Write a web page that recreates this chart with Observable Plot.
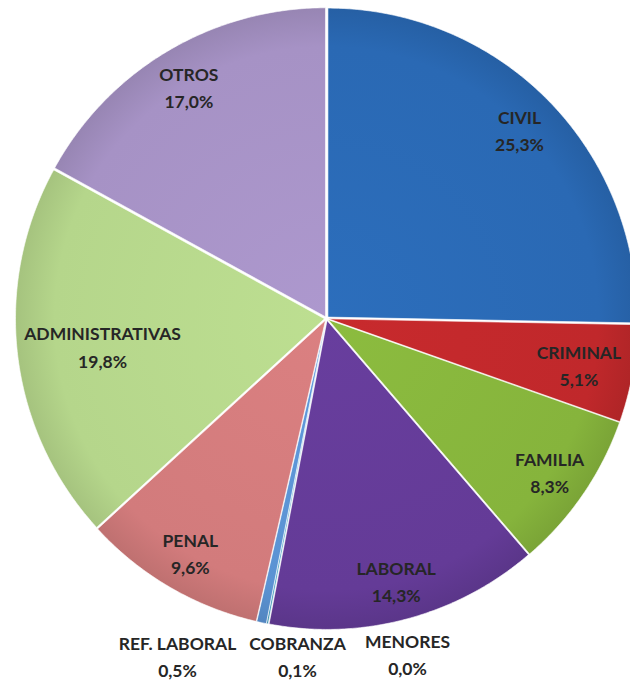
<!DOCTYPE html>
<html>
<head>
<meta charset="utf-8">
<script src="https://cdn.jsdelivr.net/npm/d3@7"></script>
<script src="https://cdn.jsdelivr.net/npm/@observablehq/plot@0.6"></script>
<style>
  html, body { margin: 0; padding: 0; background: #ffffff; }
  #chart { width: 630px; height: 682px; }
</style>
</head>
<body>
<div id="chart"></div>
<script>
// ---- data ----
const categories = ["CIVIL", "CRIMINAL", "FAMILIA", "LABORAL", "MENORES", "COBRANZA", "REF. LABORAL", "PENAL", "ADMINISTRATIVAS", "OTROS"];
const shares = [25.3, 5.1, 8.3, 14.3, 0.0, 0.1, 0.5, 9.6, 19.8, 17.0];
const colors = ["#2a69b4", "#c0282b", "#86b43c", "#643b97", "#7f7f7f", "#4aa3c4", "#5b93d3", "#d27b7c", "#b5d68b", "#a692c5"];

// ---- layout ----
const W = 630, H = 682;
const cx = 326, cy = 318, R = 309;
const explode = 2;
const fmt = v => d3.format(".1f")(v).replace(".", ",") + "%";

const rows = categories.map((name, i) => ({name, share: shares[i], color: colors[i], idx: i}));
const arcs = d3.pie().sort(null).value(d => d.share).startAngle(0).endAngle(2 * Math.PI)(rows);

const sliceMarks = [];
arcs.forEach(a => {
  if (a.endAngle - a.startAngle <= 0) return;
  const mid = (a.startAngle + a.endAngle) / 2;
  const ox = cx + explode * Math.sin(mid), oy = cy - explode * Math.cos(mid);
  const pts = [{x: ox, y: oy}];
  const n = Math.max(2, Math.ceil((a.endAngle - a.startAngle) / (Math.PI / 360)));
  for (let k = 0; k <= n; k++) {
    const t = a.startAngle + (a.endAngle - a.startAngle) * k / n;
    pts.push({x: ox + R * Math.sin(t), y: oy - R * Math.cos(t)});
  }
  pts.push({x: ox, y: oy});
  sliceMarks.push(Plot.line(pts, {x: "x", y: "y", fill: `url(#grad-${a.data.idx})`, stroke: "#ffffff", strokeWidth: 1, strokeOpacity: 0.6, curve: "linear"}));
});

// labels
const innerR = {ADMINISTRATIVAS: 0.73, CRIMINAL: 0.83};
const outsideX = {"REF. LABORAL": -149, "COBRANZA": -29, "MENORES": 81};
const labels = arcs.map(a => {
  const mid = (a.startAngle + a.endAngle) / 2;
  const name = a.data.name;
  if (name in outsideX) {
    return {x: cx + outsideX[name], y: cy + R + 27 - (name === "MENORES" ? 2 : 0), text: name + "\n" + fmt(a.data.share)};
  }
  const r = R * (innerR[name] ?? 0.875);
  return {x: cx + r * Math.sin(mid), y: cy - r * Math.cos(mid), text: name + "\n" + fmt(a.data.share)};
});

const chart = Plot.plot({
  width: W, height: H,
  margin: 0,
  x: {domain: [0, W], range: [0, W], axis: null},
  y: {domain: [0, H], range: [0, H], axis: null},
  style: {background: "#ffffff"},
  marks: [
    ...sliceMarks,
    Plot.text(labels, {x: "x", y: "y", text: "text", fontFamily: "Lato, 'Open Sans', sans-serif", fontWeight: "bold", fontSize: 17.5, lineHeight: 1.55, fill: "#262626", textAnchor: "middle"})
  ]
});

// radial shading for a slight 3D look
const ns = "http://www.w3.org/2000/svg";
const defs = document.createElementNS(ns, "defs");
colors.forEach((c, i) => {
  const g = document.createElementNS(ns, "radialGradient");
  g.setAttribute("id", `grad-${i}`);
  g.setAttribute("gradientUnits", "userSpaceOnUse");
  g.setAttribute("cx", cx); g.setAttribute("cy", cy); g.setAttribute("r", R);
  const stops = [[0, d3.color(c).brighter(0.12)], [0.88, d3.color(c)], [1, d3.color(c).darker(0.25)]];
  stops.forEach(([o, col]) => {
    const s = document.createElementNS(ns, "stop");
    s.setAttribute("offset", o);
    s.setAttribute("stop-color", col.formatHex());
    g.appendChild(s);
  });
  defs.appendChild(g);
});
chart.insertBefore(defs, chart.firstChild);
document.getElementById("chart").appendChild(chart);
</script>
</body>
</html>
